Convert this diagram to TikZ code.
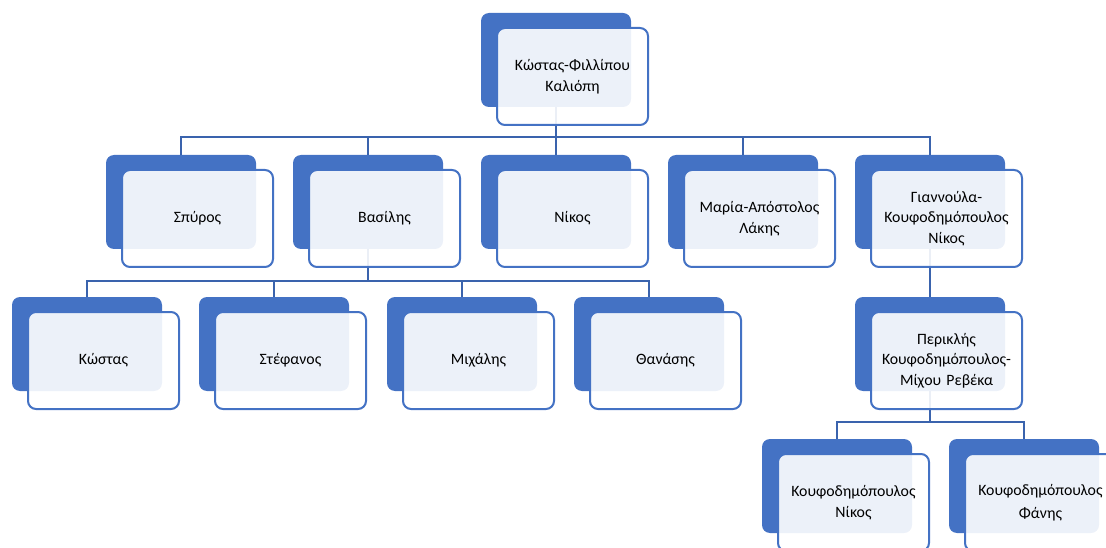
\documentclass[tikz,border=0pt]{standalone}
\usepackage{fontspec}
\setmainfont{Carlito}
\usepackage{xcolor}
\usepackage{tikz}
\definecolor{officeblue}{HTML}{4472C4}
\definecolor{linkblue}{HTML}{3A63AD}
\tikzset{back/.style ={fill=officeblue, rounded corners=8pt, minimum width=150pt, minimum height=94pt, inner sep=0pt}}
\tikzset{front/.style ={draw=officeblue, line width=2pt, fill=white, fill opacity=0.9, text opacity=1, rounded corners=8pt, minimum width=151pt, minimum height=97pt, text width=146pt, align=center, inner sep=0pt, font=\fontsize{15.8}{20.5}\selectfont}}
\tikzset{link/.style ={draw=linkblue, line width=2.5pt}}

\begin{document}
\begin{tikzpicture}[x=1pt,y=-1pt]
\useasboundingbox (0,0) rectangle (1106,548);
% back tabs first, so connectors and cards lie above them
\node [back] (top) at (556,60) {};
\node [back] (spyros) at (181,202) {};
\node [back] (vasilis) at (368,202) {};
\node [back] (nikos) at (556,202) {};
\node [back] (maria) at (743,202) {};
\node [back] (giannoula) at (930,202) {};
\node [back] (kostas) at (87,344) {};
\node [back] (stefanos) at (274,344) {};
\node [back] (michalis) at (462,344) {};
\node [back] (thanasis) at (649,344) {};
\node [back] (periklis) at (930,344) {};
\node [back] (knikos) at (837,486) {};
\node [back] (fanis) at (1024,486) {};
% connectors
\foreach \c in {spyros,vasilis,nikos,maria,giannoula}
  \draw [link] (top.south) -- ++(0,30) -| (\c.north);
\foreach \c in {kostas,stefanos,michalis,thanasis}
  \draw [link] (vasilis.south) -- ++(0,32) -| (\c.north);
\draw [link] (giannoula.south) -- (periklis.north);
\foreach \c in {knikos,fanis}
  \draw [link] (periklis.south) -- ++(0,31) -| (\c.north);
% cards
\node [front] (topt) at ([xshift=16.5pt,yshift=-16.5pt]top.center) {Κώστας-Φιλλίπου\\Καλιόπη};
\node [front] (spyrost) at ([xshift=16.5pt,yshift=-16.5pt]spyros.center) {Σπύρος};
\node [front] (vasilist) at ([xshift=16.5pt,yshift=-16.5pt]vasilis.center) {Βασίλης};
\node [front] (nikost) at ([xshift=16.5pt,yshift=-16.5pt]nikos.center) {Νίκος};
\node [front] (mariat) at ([xshift=16.5pt,yshift=-16.5pt]maria.center) {Μαρία-Απόστολος\\Λάκης};
\node [front] (giannoulat) at ([xshift=16.5pt,yshift=-16.5pt]giannoula.center) {Γιαννούλα-\\Κουφοδημόπουλος\\Νίκος};
\node [front] (kostast) at ([xshift=16.5pt,yshift=-16.5pt]kostas.center) {Κώστας};
\node [front] (stefanost) at ([xshift=16.5pt,yshift=-16.5pt]stefanos.center) {Στέφανος};
\node [front] (michalist) at ([xshift=16.5pt,yshift=-16.5pt]michalis.center) {Μιχάλης};
\node [front] (thanasist) at ([xshift=16.5pt,yshift=-16.5pt]thanasis.center) {Θανάσης};
\node [front] (periklist) at ([xshift=16.5pt,yshift=-16.5pt]periklis.center) {Περικλής\\Κουφοδημόπουλος-\\Μίχου Ρεβέκα};
\node [front] (knikost) at ([xshift=16.5pt,yshift=-16.5pt]knikos.center) {Κουφοδημόπουλος\\Νίκος};
\node [front] (fanist) at ([xshift=16.5pt,yshift=-16.5pt]fanis.center) {Κουφοδημόπουλος\\[2pt]Φάνης};
\end{tikzpicture}
\end{document}
